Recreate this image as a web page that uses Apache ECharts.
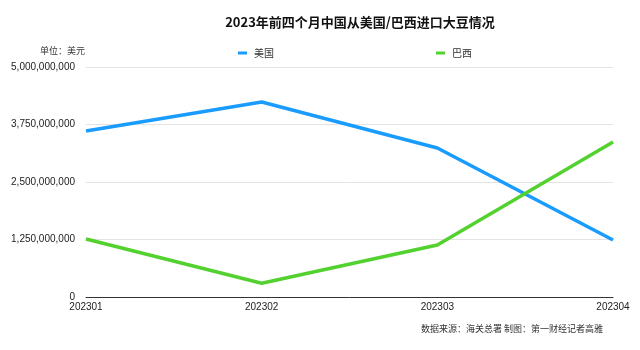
<!DOCTYPE html>
<html><head><meta charset="utf-8">
<script src="https://cdn.jsdelivr.net/npm/echarts@6/dist/echarts.min.js"></script>
<style>html,body{margin:0;padding:0;background:#fff}#c{width:640px;height:350px}</style>
</head><body><div id="c"></div>
<script>
var categories = ['202301','202302','202303','202304'];
var usa = [3610000000, 4240000000, 3240000000, 1240000000];
var brazil = [1260000000, 300000000, 1130000000, 3370000000];
var yTicks = [0, 1250000000, 2500000000, 3750000000, 5000000000];

var font = '"Liberation Sans", "Noto Sans CJK SC", sans-serif';
var cjk = '"Noto Sans CJK SC", sans-serif';
var chart = echarts.init(document.getElementById('c'));
chart.setOption({
  animation: false,
  textStyle: {fontFamily: font},
  title: [{
    text: '2023年前四个月中国从美国/巴西进口大豆情况',
    left: 355, top: 11, textAlign: 'center',
    textStyle: {fontSize: 13, fontWeight: 'bold', color: '#111', fontFamily: cjk}
  }, {
    text: '单位：美元', left: 35, top: 41,
    textStyle: {fontSize: 9, fontWeight: 'normal', color: '#333', fontFamily: cjk}
  }, {
    text: '数据来源：海关总署 制图：第一财经记者高雅', right: 32, top: 319,
    textStyle: {fontSize: 9, fontWeight: 'normal', color: '#333', fontFamily: cjk}
  }],
  legend: {
    left: 233, top: 43, itemGap: 162, itemWidth: 9, itemHeight: 3, icon: 'rect',
    textStyle: {fontSize: 10, color: '#333', fontFamily: cjk, padding: [0, 0, 0, 2]},
    data: ['美国', '巴西']
  },
  grid: {left: 86, right: 27, top: 67, bottom: 53, containLabel: false},
  xAxis: {
    type: 'category', data: categories, boundaryGap: false,
    axisLine: {lineStyle: {color: '#333', width: 1}},
    axisTick: {show: false},
    axisLabel: {fontSize: 10, color: '#222', margin: 5, fontFamily: font, align: 'center'}
  },
  yAxis: {
    type: 'value', min: 0, max: 5000000000, interval: 1250000000,
    axisLine: {show: false}, axisTick: {show: false},
    splitLine: {lineStyle: {color: '#e3e3e3', width: 1}},
    axisLabel: {fontSize: 10, color: '#222', margin: 11, fontFamily: font,
      formatter: function (v) { return v.toLocaleString('en-US'); }}
  },
  series: [{
    name: '美国', type: 'line', data: usa, showSymbol: false, symbol: 'none',
    itemStyle: {color: '#1a9cff'},
    lineStyle: {color: '#1a9cff', width: 3.5}
  }, {
    name: '巴西', type: 'line', data: brazil, showSymbol: false, symbol: 'none',
    itemStyle: {color: '#52d12f'},
    lineStyle: {color: '#52d12f', width: 3.5}
  }]
});
</script></body></html>
